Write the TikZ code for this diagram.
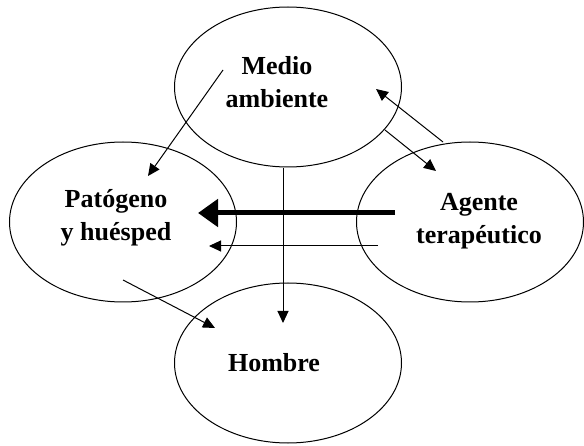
\documentclass[tikz,border=0pt]{standalone}
\usepackage{fontspec}
\setmainfont{Liberation Serif}
\usetikzlibrary{shapes.geometric,arrows.meta}
\tikzset{
  oval/.style={ellipse, draw, line width=1pt, minimum width=227pt, minimum height=160pt, inner sep=0pt},
  lbl/.style={align=center, inner sep=0pt, font=\bfseries\fontsize{26}{33}\selectfont},
  thinarrow/.style={line width=1pt, -{Triangle[length=12pt,width=11pt]}},
  thickarrow/.style={line width=5pt, -{Triangle[length=20pt,width=27pt]}}
}
\begin{document}
\begin{tikzpicture}[x=1pt,y=-1pt]
\useasboundingbox (0,0) rectangle (584,446);
\node[oval] (medio) at (288,87) {};
\node[oval] (pat) at (123,222) {};
\node[oval] (agente) at (470,222) {};
\node[oval] (hombre) at (288,363) {};
\node[lbl] (tmedio) at (277,82.5) {Medio\\ambiente};
\node[lbl] (tpat) at (116,218) {Patógeno\\y huésped};
\node[lbl] (tagente) at (479,221) {Agente\\terapéutico};
\node[lbl] (thombre) at (274,363) {Hombre};
\coordinate (a1s) at (223,70);
\coordinate (a1e) at (148,176);
\coordinate (a2s) at (443,142);
\coordinate (a2e) at (376,89);
\coordinate (a3s) at (385,130);
\coordinate (a3e) at (436,171);
\coordinate (a4s) at (395,213);
\coordinate (a4e) at (198,213);
\coordinate (a5s) at (378,246);
\coordinate (a5e) at (209,246);
\coordinate (a6s) at (283,168);
\coordinate (a6e) at (283,323);
\coordinate (a7s) at (123,280);
\coordinate (a7e) at (215,328);
\draw[thinarrow] (a1s) -- (a1e);
\draw[thinarrow] (a2s) -- (a2e);
\draw[thinarrow] (a3s) -- (a3e);
\draw[thickarrow] (a4s) -- (a4e);
\draw[thinarrow] (a5s) -- (a5e);
\draw[thinarrow] (a6s) -- (a6e);
\draw[thinarrow] (a7s) -- (a7e);
\end{tikzpicture}
\end{document}
